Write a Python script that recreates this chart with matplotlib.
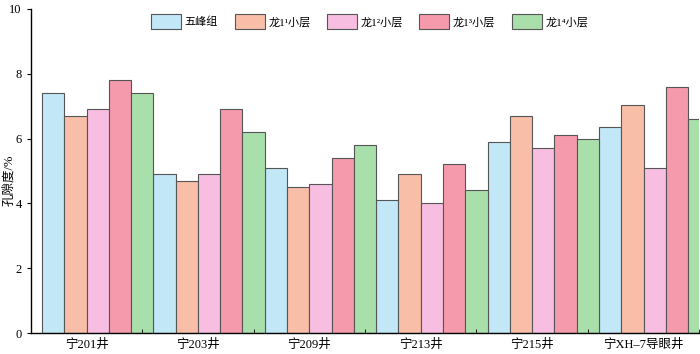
import matplotlib

matplotlib.use("Agg")
import matplotlib.pyplot as plt
import numpy as np

plt.rcParams["font.family"] = ["Liberation Serif", "Noto Sans CJK SC"]

wells = ["宁201井", "宁203井", "宁209井", "宁213井", "宁215井", "宁XH–7导眼井"]
layers = ["五峰组", "龙1¹小层", "龙1²小层", "龙1³小层", "龙1⁴小层"]
wufeng = [7.4, 4.9, 5.1, 4.1, 5.9, 6.35]
long1 = [6.7, 4.7, 4.5, 4.9, 6.7, 7.05]
long2 = [6.9, 4.9, 4.6, 4.0, 5.7, 5.1]
long3 = [7.8, 6.9, 5.4, 5.2, 6.1, 7.6]
long4 = [7.4, 6.2, 5.8, 4.4, 6.0, 6.6]
colors = ["#c2e8f8", "#f9bea8", "#f8bee2", "#f59aac", "#a8dfab"]

series = [wufeng, long1, long2, long3, long4]

fig = plt.figure(figsize=(7.0, 3.54), dpi=100)
ax = fig.add_axes([0.044, 0.059, 0.955, 0.916])

x = np.arange(len(wells))
w = 0.2
for k, (vals, c, lab) in enumerate(zip(series, colors, layers)):
    ax.bar(x - 0.4 + w / 2 + k * w, vals, width=w, color=c, edgecolor="#555555",
           linewidth=0.8, label=lab)

ax.set_xlim(-0.5, len(wells) - 0.5)
ax.set_ylim(0, 10)
ax.set_yticks([0, 2, 4, 6, 8, 10])
ax.set_xticks(x)
ax.set_xticklabels(wells)
ax.set_xticks(np.arange(-0.5, len(wells), 1), minor=True)
ax.tick_params(axis="x", which="major", length=0, labelsize=9, pad=4)
ax.tick_params(axis="x", which="minor", length=3, direction="in")
ax.tick_params(axis="y", length=3, direction="out", labelsize=9)
ax.set_ylabel("孔隙度/%", fontsize=9)
ax.yaxis.set_label_coords(-0.024, 0.47)
for s in ["top", "right"]:
    ax.spines[s].set_visible(False)
ax.spines["left"].set_linewidth(1.0)
ax.spines["bottom"].set_linewidth(1.0)

ax.legend(ncol=5, loc="center", bbox_to_anchor=(0.507, 0.96), frameon=False,
          fontsize=8, handlelength=2.7, handleheight=1.7, columnspacing=1.5,
          handletextpad=0.3)

fig.savefig("out.png", dpi=100)
